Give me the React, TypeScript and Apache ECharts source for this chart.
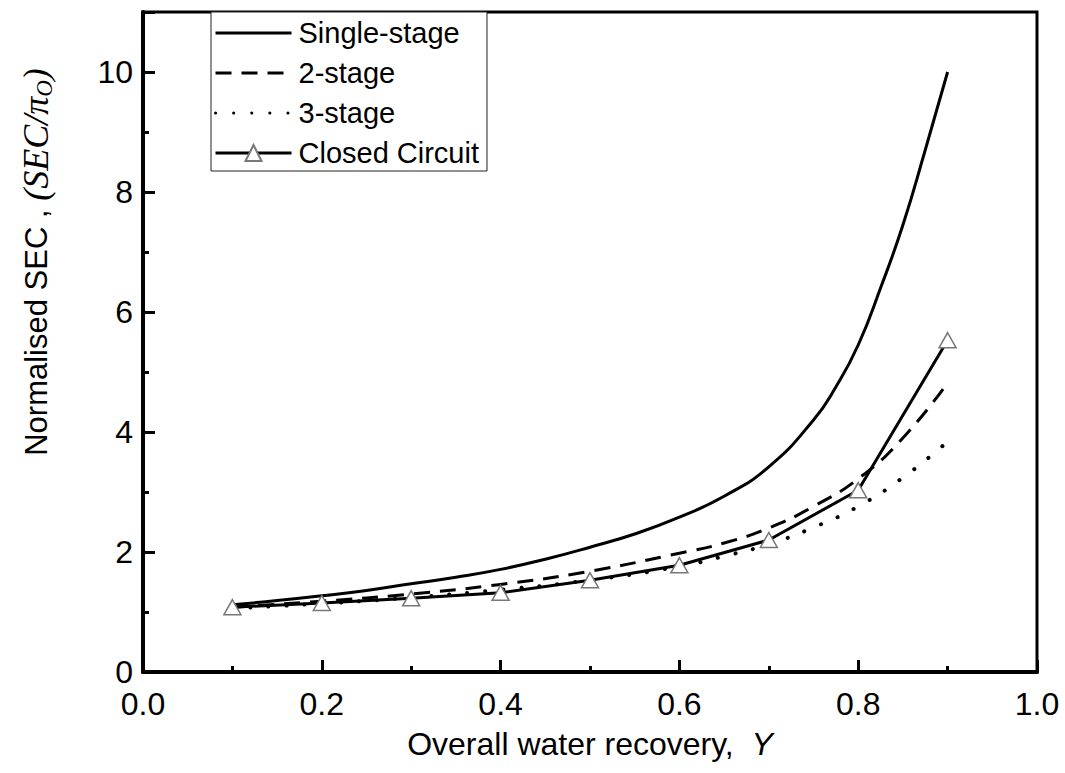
import React, { useEffect, useRef } from "react";
import * as echarts from "echarts";

const xTicks = [0.0, 0.2, 0.4, 0.6, 0.8, 1.0];
const yTicks = [0, 2, 4, 6, 8, 10];

const singleX = [0.1, 0.15, 0.2, 0.25, 0.3, 0.35, 0.4, 0.45, 0.5, 0.55, 0.6, 0.65, 0.7, 0.75, 0.775, 0.8, 0.825, 0.85, 0.875, 0.9];
const singleY = [1.12, 1.19, 1.27, 1.36, 1.47, 1.58, 1.71, 1.88, 2.08, 2.3, 2.58, 2.93, 3.42, 4.2, 4.75, 5.45, 6.4, 7.45, 8.7, 10.0];

const twoX = [0.1, 0.2, 0.3, 0.4, 0.5, 0.6, 0.65, 0.7, 0.75, 0.8, 0.85, 0.9];
const twoY = [1.08, 1.18, 1.3, 1.46, 1.68, 1.98, 2.15, 2.4, 2.76, 3.22, 3.9, 4.82];

const threeX = [0.1, 0.2, 0.3, 0.4, 0.5, 0.6, 0.65, 0.7, 0.75, 0.8, 0.85, 0.9];
const threeY = [1.06, 1.14, 1.24, 1.37, 1.53, 1.76, 1.93, 2.13, 2.41, 2.76, 3.24, 3.84];

const closedX = [0.1, 0.2, 0.3, 0.4, 0.5, 0.6, 0.7, 0.8, 0.9];
const closedY = [1.08, 1.15, 1.23, 1.32, 1.53, 1.78, 2.2, 3.03, 5.53];

const seriesNames = ["Single-stage", "2-stage", "3-stage", "Closed Circuit"];

const zip = (xs: number[], ys: number[]) => xs.map((x, i) => [x, ys[i]]);

const SANS = "'Liberation Sans', Arial, sans-serif";
const SERIF = "'Liberation Serif', 'Times New Roman', serif";

export default function App() {
  const ref = useRef<HTMLDivElement>(null);
  useEffect(() => {
    if (!ref.current) return;
    const chart = echarts.init(ref.current, null, { renderer: "svg" });
    const hidden = { opacity: 0 };
    const option: any = {
      animation: false,
      backgroundColor: "#fff",
      grid: {
        left: 143,
        right: 28,
        top: 12,
        bottom: 101,
        show: true,
        borderColor: "#000",
        borderWidth: 3,
        backgroundColor: "transparent",
      },
      legend: {
        orient: "vertical",
        left: 211,
        top: 12,
        padding: [5, 8, 2, 3],
        itemWidth: 76,
        itemHeight: 20,
        itemGap: 8,
        borderColor: "#222",
        borderWidth: 1,
        backgroundColor: "#fff",
        lineStyle: { width: 3 },
        data: [
          { name: seriesNames[0], itemStyle: hidden },
          { name: seriesNames[1], itemStyle: hidden },
          { name: seriesNames[2], itemStyle: hidden },
          { name: seriesNames[3] },
        ],
        textStyle: { fontSize: 29, fontFamily: SANS, color: "#000", lineHeight: 32, padding: [0, 0, 0, 2] },
      },
      xAxis: {
        type: "value",
        min: 0,
        max: 1,
        interval: 0.2,
        name: "{a|Overall water recovery,  }{b|Y}",
        nameLocation: "middle",
        nameGap: 56,
        nameTextStyle: {
          rich: {
            a: { fontSize: 32, fontFamily: SANS, color: "#000" },
            b: { fontSize: 32, fontFamily: SANS, fontStyle: "italic", color: "#000" },
          },
        },
        axisLine: { show: true, lineStyle: { color: "#000", width: 4 } },
        axisTick: { show: true, inside: true, length: 12, lineStyle: { color: "#000", width: 3 } },
        minorTick: { show: true, splitNumber: 2, length: 6, lineStyle: { color: "#000", width: 3 } },
        axisLabel: {
          fontSize: 32,
          fontFamily: SANS,
          color: "#000",
          margin: 16,
          formatter: (v: number) => (xTicks.some((t) => Math.abs(t - v) < 1e-9) ? v.toFixed(1) : ""),
        },
        splitLine: { show: false },
      },
      yAxis: [
        {
          type: "value",
          min: 0,
          max: 11,
          interval: 2,
          axisLine: { show: true, lineStyle: { color: "#000", width: 4 } },
          axisTick: { show: true, inside: true, length: 12, lineStyle: { color: "#000", width: 3 } },
          axisLabel: {
            fontSize: 32,
            fontFamily: SANS,
            color: "#000",
            margin: 10,
            formatter: (v: number) => (yTicks.indexOf(v) >= 0 ? String(v) : ""),
          },
          splitLine: { show: false },
        },
        {
          type: "value",
          min: 0,
          max: 11,
          interval: 1,
          position: "left",
          axisLine: { show: false },
          axisTick: { show: true, inside: true, length: 6, lineStyle: { color: "#000", width: 3 } },
          axisLabel: { show: false },
          splitLine: { show: false },
        },
      ],
      graphic: [
        {
          type: "text",
          x: 36,
          y: 262,
          rotation: Math.PI / 2,
          style: {
            text: "{a|Normalised SEC , }{b|(SEC/π}{c|O}{b|)}",
            align: "center",
            verticalAlign: "middle",
            fill: "#000",
            rich: {
              a: { fontSize: 31, fontFamily: SANS, fill: "#000", lineHeight: 40, verticalAlign: "middle" },
              b: { fontSize: 36, fontFamily: SERIF, fontStyle: "italic", fill: "#000", lineHeight: 40, verticalAlign: "middle" },
              c: { fontSize: 23, fontFamily: SERIF, fontStyle: "italic", fill: "#000", lineHeight: 40, verticalAlign: "bottom", padding: [12, 0, 0, 0] },
            },
          },
        },
      ],
      series: [
        {
          name: seriesNames[0],
          type: "line",
          data: zip(singleX, singleY),
          smooth: 0.5,
          symbol: "none",
          lineStyle: { color: "#000", width: 3 },
          itemStyle: { color: "#000" },
          z: 2,
        },
        {
          name: seriesNames[1],
          type: "line",
          data: zip(twoX, twoY),
          smooth: 0.5,
          symbol: "none",
          lineStyle: { color: "#000", width: 3, type: [16, 10] },
          itemStyle: { color: "#000" },
          z: 2,
        },
        {
          name: seriesNames[2],
          type: "line",
          data: zip(threeX, threeY),
          smooth: 0.5,
          symbol: "none",
          lineStyle: { color: "#000", width: 4, type: [0.1, 18], cap: "round" },
          itemStyle: { color: "#000" },
          z: 2,
        },
        {
          name: seriesNames[3],
          type: "line",
          data: zip(closedX, closedY),
          symbol: "triangle",
          symbolSize: [17, 15],
          showSymbol: true,
          lineStyle: { color: "#000", width: 3 },
          itemStyle: { color: "#fff", borderColor: "#777", borderWidth: 1.5 },
          z: 3,
        },
      ],
    };
    chart.setOption(option);
    return () => chart.dispose();
  }, []);
  return (
    <div
      ref={ref}
      style={{ position: "fixed", left: 0, top: 0, width: 1065, height: 773, background: "#fff" }}
    />
  );
}
